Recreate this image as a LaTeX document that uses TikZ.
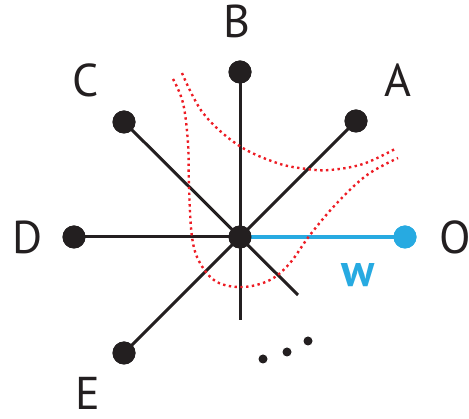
\documentclass[tikz,border=0pt]{standalone}
\usepackage{fontspec}
\setmainfont{PT Sans}
\definecolor{ink}{HTML}{231F20}
\definecolor{wblue}{HTML}{27AAE1}
\definecolor{dred}{HTML}{ED1C24}
\begin{document}
\begin{tikzpicture}[x=1pt,y=-1pt,
  spoke/.style={draw=ink,line width=3pt},
  enddot/.style={circle,fill=ink,inner sep=0pt,minimum size=23pt},
  bluedot/.style={circle,fill=wblue,inner sep=0pt,minimum size=23pt},
  lbl/.style={text=ink,font=\fontsize{46}{46}\selectfont,inner sep=0pt},
  reddots/.style={draw=dred,line width=2.4pt,dash pattern=on 2.4pt off 3.4pt},
  smalldot/.style={circle,fill=ink,inner sep=0pt,minimum size=9pt}]
\useasboundingbox (0,0) rectangle (469,419);
% end points of the free spokes
\coordinate (bot) at (240,320);
\coordinate (se) at (298,295);
% dots
\node[enddot] (ctr) at (240,237) {};
\node[enddot] (B) at (240,72) {};
\node[enddot] (C) at (124,122) {};
\node[enddot] (A) at (356,121) {};
\node[enddot] (D) at (74,237) {};
\node[enddot] (E) at (124,353) {};
\node[bluedot] (O) at (405,237) {};
% spokes
\draw[spoke] (B.center) -- (bot);
\draw[spoke] (C.center) -- (se);
\draw[spoke] (A.center) -- (E.center);
\draw[spoke] (D.center) -- (ctr.center);
\draw[draw=wblue,line width=3.5pt] (ctr.center) -- (O.center);
\node[enddot] at (ctr) {};
\node[enddot] at (B) {};
\node[enddot] at (C) {};
\node[enddot] at (A) {};
\node[enddot] at (D) {};
\node[enddot] at (E) {};
\node[bluedot] at (O) {};
% labels
\node[lbl] (lB) at (237,21) {B};
\node[lbl] (lC) at (86,80) {C};
\node[lbl] (lA) at (398,80) {A};
\node[lbl] (lD) at (28,237) {D};
\node[lbl] (lO) at (455,237) {O};
\node[lbl] (lE) at (88,393) {E};
\node[text=wblue,font=\fontsize{46}{46}\selectfont\bfseries,inner sep=0pt,anchor=base] (w) at (358,287) {w};
% red dotted curves
\draw[reddots] plot[smooth,tension=0.6] coordinates {(182,73) (203,113) (238,145) (277,163) (307,169) (330,170) (363,164) (395,149)};
\draw[reddots] plot[smooth,tension=0.6] coordinates {(173,79) (183,103) (188,143) (189,187) (192,237) (200,263) (217,282) (243,287) (270,280) (290,263) (310,235) (337,203) (367,175) (398,158)};
% ellipsis
\node[smalldot] (e1) at (263,359) {};
\node[smalldot] (e2) at (287,352) {};
\node[smalldot] (e3) at (308,341) {};
\end{tikzpicture}
\end{document}
